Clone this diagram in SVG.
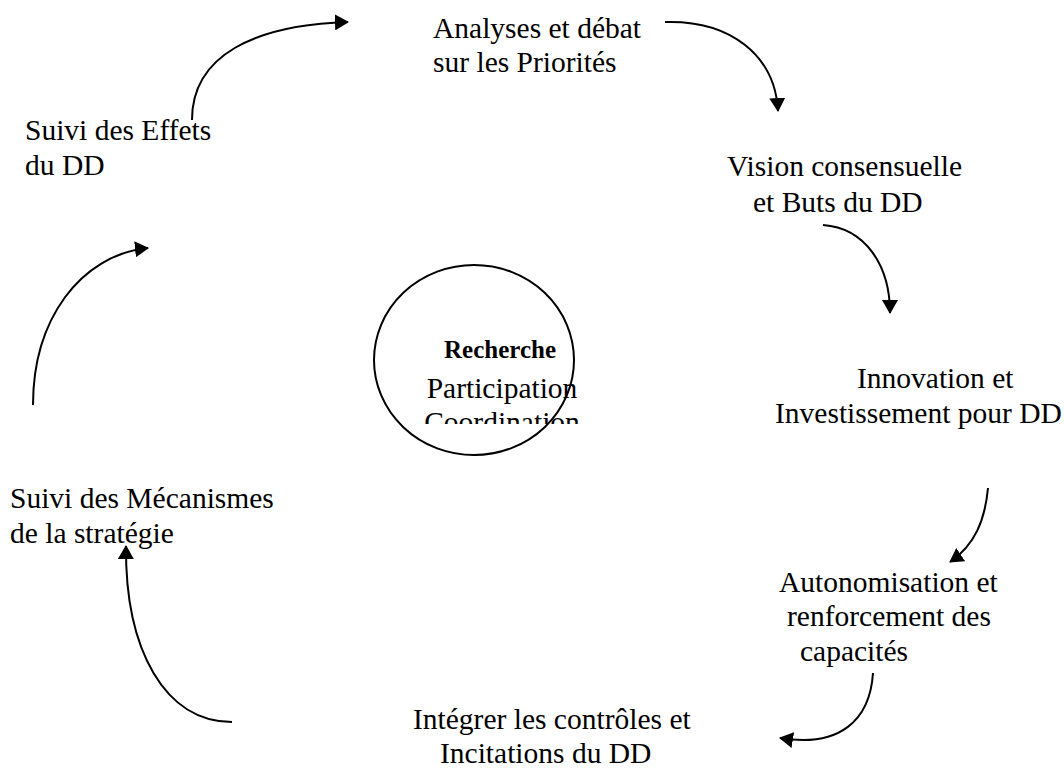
<svg xmlns="http://www.w3.org/2000/svg" width="1064" height="768" viewBox="0 0 1064 768">
<style>
.t{font-family:"Liberation Serif","Times New Roman",serif;font-size:29.5px;fill:#000}
.b{font-weight:bold;font-size:25px}
.c{fill:none;stroke:#000;stroke-width:2}
</style>
<defs>
<marker id="ah" viewBox="0 0 14 16" refX="13" refY="8" markerWidth="14" markerHeight="16" markerUnits="userSpaceOnUse" orient="auto">
<path d="M0,0 L14,8 L0,16 z" fill="#000"/>
</marker>
<clipPath id="clipC"><rect x="370" y="250" width="230" height="174"/></clipPath>
</defs>
<rect width="1064" height="768" fill="#fff"/>
<g id="center">
<ellipse cx="474" cy="360" rx="100" ry="95" fill="none" stroke="#000" stroke-width="2"/>
<g clip-path="url(#clipC)" text-anchor="middle">
<text class="t b" x="500" y="358">Recherche</text>
<text class="t" x="502" y="398">Participation</text>
<text class="t" x="502" y="432">Coordination</text>
</g>
</g>
<g id="n-analyses"><text class="t" x="433" y="38">Analyses et débat</text><text class="t" x="433" y="72">sur les Priorités</text></g>
<g id="n-vision"><text class="t" x="727" y="176">Vision consensuelle</text><text class="t" x="753" y="212">et Buts du DD</text></g>
<g id="n-innovation"><text class="t" x="857" y="388">Innovation et</text><text class="t" x="775" y="423">Investissement pour DD</text></g>
<g id="n-autonomisation"><text class="t" x="779" y="592">Autonomisation et</text><text class="t" x="787" y="626">renforcement des</text><text class="t" x="800" y="661">capacités</text></g>
<g id="n-integrer"><text class="t" x="413" y="729">Intégrer les contrôles et</text><text class="t" x="440" y="763">Incitations du DD</text></g>
<g id="n-mecanismes"><text class="t" x="10" y="508">Suivi des Mécanismes</text><text class="t" x="10" y="543">de la stratégie</text></g>
<g id="n-effets"><text class="t" x="25" y="140">Suivi des Effets</text><text class="t" x="25" y="175">du DD</text></g>
<g id="connectors">
<path class="c" marker-end="url(#ah)" d="M192,120 C192,55 255,25 348,22"/>
<path class="c" marker-end="url(#ah)" d="M665,22 C730,20 775,55 778,111"/>
<path class="c" marker-end="url(#ah)" d="M823,225 C865,228 890,265 890,313"/>
<path class="c" marker-end="url(#ah)" d="M988,488 C985,520 975,545 950,562"/>
<path class="c" marker-end="url(#ah)" d="M873,673 C870,720 840,748 780,738"/>
<path class="c" marker-end="url(#ah)" d="M232,722 C165,722 125,650 126,546"/>
<path class="c" marker-end="url(#ah)" d="M33,405 C33,320 80,255 148,248"/>
</g>
</svg>
